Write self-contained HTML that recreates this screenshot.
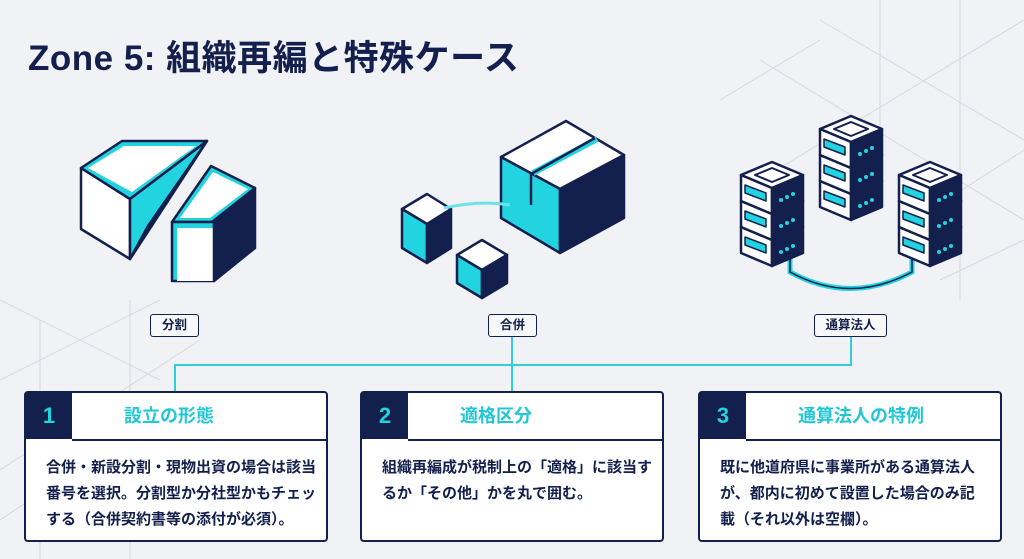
<!DOCTYPE html>
<html><head><meta charset="utf-8"><style>
body{margin:0;width:1024px;height:559px;background:#f1f2f5;overflow:hidden;position:relative;font-family:"Liberation Sans","Noto Sans CJK JP",sans-serif;color:#13204d}
h1{position:absolute;left:28px;top:30px;margin:0;font-size:35px;font-weight:bold;color:#13204d;letter-spacing:0.5px}
.lbl{position:absolute;top:314px;height:21px;border:1.5px solid #13204d;border-radius:3px;background:#f7f8fa;font-size:12.5px;font-weight:bold;line-height:21px;text-align:center}
.card{position:absolute;top:391px;width:304px;height:151px;border:2px solid #13204d;border-radius:4px;background:#fff;box-sizing:border-box}
.num{position:absolute;left:0;top:0;width:46px;height:46px;background:#13204d;color:#22d3e0;font-size:22px;font-weight:bold;line-height:46px;text-align:center}
.hd{position:absolute;left:46px;top:0;right:0;height:46px;border-bottom:2px solid #13204d;color:#22c7d6;font-size:18px;font-weight:bold;line-height:46px;padding-left:52px}
.bd{position:absolute;left:20px;right:0;top:62px;font-size:15px;font-weight:bold;line-height:26px;color:#13204d;white-space:nowrap}
</style></head><body>
<svg width="1024" height="559" style="position:absolute;left:0;top:0">
<g stroke="#d5d8e3" stroke-width="1" fill="none">
<line x1="0" y1="380" x2="160" y2="300"/><line x1="0" y1="300" x2="160" y2="380"/><line x1="0" y1="470" x2="200" y2="340"/><line x1="40" y1="320" x2="40" y2="559"/><line x1="130" y1="300" x2="130" y2="559"/><line x1="0" y1="520" x2="120" y2="440"/>
<line x1="760" y1="60" x2="1024" y2="220"/><line x1="820" y1="20" x2="1024" y2="140"/><line x1="880" y1="0" x2="880" y2="200"/><line x1="960" y1="0" x2="960" y2="300"/><line x1="1024" y1="20" x2="760" y2="180"/><line x1="1024" y1="150" x2="900" y2="230"/><line x1="940" y1="280" x2="1024" y2="240"/><line x1="720" y1="100" x2="820" y2="40"/>
</g>
<g stroke="#2fcfd9" stroke-width="2" fill="none">
<polyline points="175,391 175,365 851,365 851,336"/>
<line x1="512" y1="336" x2="512" y2="391"/>
</g>
<g stroke="#13204d" stroke-width="2.5" stroke-linejoin="round">
<polygon points="81,168 130,199 130,259 81,229" fill="#fff"/>
<polygon points="81,168 122,141 207,141 130,199" fill="#22d3e0"/>
<polygon points="88,168 124,146 196,146 132,192" fill="#fff" stroke="none"/>
<polygon points="130,199 207,141 130,259" fill="#22d3e0"/>
<polygon points="207,141 148,226 130,259" fill="#13204d"/>
<polygon points="172,222 211,166 255,188 212,222" fill="#22d3e0"/>
<polygon points="180,218 213,172 248,189 210,218" fill="#fff" stroke="none"/>
<polygon points="172,222 214,222 214,281 172,281" fill="#22d3e0"/>
<rect x="177" y="228" width="37" height="53" fill="#fff" stroke="none"/>
<polygon points="214,222 255,188 255,248 214,281" fill="#13204d"/>
</g>
<g stroke="#13204d" stroke-width="2.5" stroke-linejoin="round">
<polygon points="402,209 427,194 451,209 427,224" fill="#fff"/>
<polygon points="402,209 427,224 427,263 402,248" fill="#22d3e0"/>
<polygon points="427,224 451,209 451,248 427,263" fill="#13204d"/>
<polygon points="457,255 482,240 507,255 482,270" fill="#fff"/>
<polygon points="457,255 482,270 482,298 457,283" fill="#22d3e0"/>
<polygon points="482,270 507,255 507,283 482,298" fill="#13204d"/>
<polygon points="501,157 566,121 624,155 560,189" fill="#fff"/>
<polygon points="501,157 560,189 560,253 501,218" fill="#22d3e0"/>
<polygon points="560,189 624,155 624,218 560,253" fill="#13204d"/>
<line x1="533" y1="173" x2="597" y2="139" stroke="#22d3e0" stroke-width="6"/>
<line x1="531" y1="174" x2="595" y2="138"/>
<line x1="531" y1="174" x2="531" y2="205"/>
</g>
<path d="M444,208 Q480,200 510,205" stroke="#6fe3ea" stroke-width="3" fill="none"/>
<path d="M790,245 L790,272 Q850,305 912,272 L912,245" stroke="#22d3e0" stroke-width="5" fill="none"/>
<path d="M790,245 L790,272 Q850,305 912,272 L912,245" stroke="#13204d" stroke-width="1.5" fill="none"/>
<defs><g id="unit" stroke="#13204d" stroke-width="2.5" stroke-linejoin="round"><polygon points="-31,13 0,0 31,13 0,26" fill="#fff"/><polygon points="-31,13 0,26 0,52 -31,39" fill="#fff"/><polygon points="0,26 31,13 31,39 0,52" fill="#13204d"/><polygon points="-27,23 -6,31 -6,39 -27,31" fill="#22d3e0" stroke-width="1.5"/><polygon points="-17,13 0,6 17,13 0,20" fill="#fff" stroke-width="2"/><circle cx="9" cy="38" r="2" fill="#22d3e0" stroke="none"/><circle cx="15" cy="35" r="2" fill="#22d3e0" stroke="none"/><circle cx="21" cy="32" r="2" fill="#22d3e0" stroke="none"/></g></defs>
<use href="#unit" x="772" y="214"/><use href="#unit" x="772" y="188"/><use href="#unit" x="772" y="162"/>
<use href="#unit" x="930" y="214"/><use href="#unit" x="930" y="188"/><use href="#unit" x="930" y="162"/>
<use href="#unit" x="851" y="168"/><use href="#unit" x="851" y="142"/><use href="#unit" x="851" y="116"/>
</svg>
<h1>Zone 5: 組織再編と特殊ケース</h1>
<div class="lbl" style="left:150px;width:47px">分割</div>
<div class="lbl" style="left:488px;width:47px">合併</div>
<div class="lbl" style="left:814px;width:71px">通算法人</div>
<div class="card" style="left:24px"><div class="num">1</div><div class="hd">設立の形態</div><div class="bd">合併・新設分割・現物出資の場合は該当<br>番号を選択。分割型か分社型かもチェッ<br>する（合併契約書等の添付が必須）。</div></div>
<div class="card" style="left:360px"><div class="num">2</div><div class="hd">適格区分</div><div class="bd">組織再編成が税制上の「適格」に該当す<br>るか「その他」かを丸で囲む。</div></div>
<div class="card" style="left:698px"><div class="num">3</div><div class="hd">通算法人の特例</div><div class="bd">既に他道府県に事業所がある通算法人<br>が、都内に初めて設置した場合のみ記<br>載（それ以外は空欄）。</div></div>
</body></html>
